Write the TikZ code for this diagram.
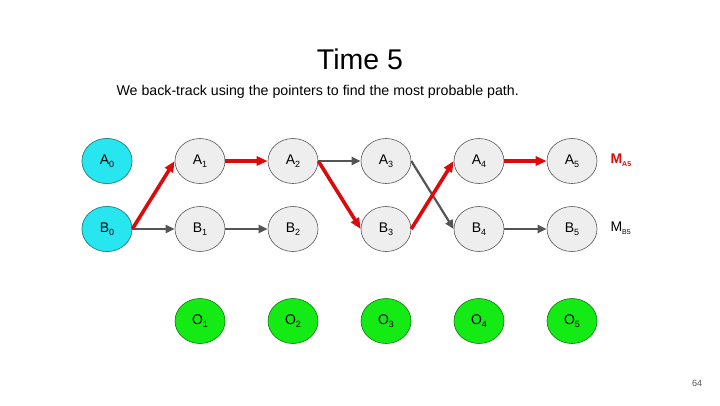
\documentclass[tikz,border=0pt]{standalone}
\usepackage{fontspec}
\setmainfont{Liberation Sans}
\usepackage{tikz}
\usetikzlibrary{arrows.meta,shapes.geometric}
\definecolor{Hidden}{RGB}{238,238,238}
\definecolor{Start}{RGB}{40,230,240}
\definecolor{Obs}{RGB}{20,235,20}
\definecolor{Edge}{RGB}{85,85,85}
\definecolor{Path}{RGB}{220,10,10}
\newcommand{\StateNode}[4]{% name x y label
\node[state] (#1) at (#2,#3) {#4};
}
\newcommand{\Sub}[1]{{\fontsize{9}{10}\selectfont\raisebox{-3pt}{#1}}}
\begin{document}
\begin{tikzpicture}[x=1pt,y=-1pt,
  state/.style={ellipse,draw=Edge,line width=0.6pt,fill=Hidden,minimum width=50pt,minimum height=45pt,inner sep=0pt,font=\fontsize{14}{16}\selectfont},
  back/.style={-{Triangle[length=9pt,width=8pt]},line width=2.2pt,Edge},
  best/.style={-{Triangle[length=11pt,width=9pt]},line width=3.6pt,Path}]
\useasboundingbox (0,0) rectangle (720,405);
% title
\node (title) at (360,59) {\fontsize{28.5}{32}\selectfont Time 5};
\node[anchor=west] (note) at (113,92) {\fontsize{14.2}{17}\selectfont We back-track using the pointers to find the most probable path.};
% hidden states
\StateNode{A0}{107}{161}{A\Sub{0}}
\StateNode{B0}{107}{229}{B\Sub{0}}
\foreach \i/\x in {1/200,2/293,3/386,4/479,5/572}{
  \StateNode{A\i}{\x}{161}{A\Sub{\i}}
  \StateNode{B\i}{\x}{229}{B\Sub{\i}}
  \node[state,fill=Obs,draw=Obs!50!black] (O\i) at (\x,321) {O\Sub{\i}};
}
\node[state,fill=Start,draw=Start!60!black] at (A0) {A\Sub{0}};
\node[state,fill=Start,draw=Start!60!black] at (B0) {B\Sub{0}};
% pointers
\draw[back] (B0.east) -- (B1.west);
\draw[back] (B1.east) -- (B2.west);
\draw[back] (A2.east) -- (A3.west);
\draw[back] (A3.east) -- (B4.west);
\draw[back] (B4.east) -- (B5.west);
% most probable path
\draw[best] (B0.east) -- (A1.west);
\draw[best] (A1.east) -- (A2.west);
\draw[best] (A2.east) -- (B3.west);
\draw[best] (B3.east) -- (A4.west);
\draw[best] (A4.east) -- (A5.west);
% final scores
\node[anchor=west,Path,font=\fontsize{14}{16}\selectfont\bfseries] (MA) at (607,160) {M{\fontsize{7}{8}\selectfont\raisebox{-3pt}{A5}}};
\node[anchor=west,font=\fontsize{14}{16}\selectfont] (MB) at (607,228) {M{\fontsize{7}{8}\selectfont\raisebox{-3pt}{B5}}};
\node[text=Edge,font=\fontsize{9}{11}\selectfont] (page) at (697,383) {64};
\end{tikzpicture}
\end{document}
